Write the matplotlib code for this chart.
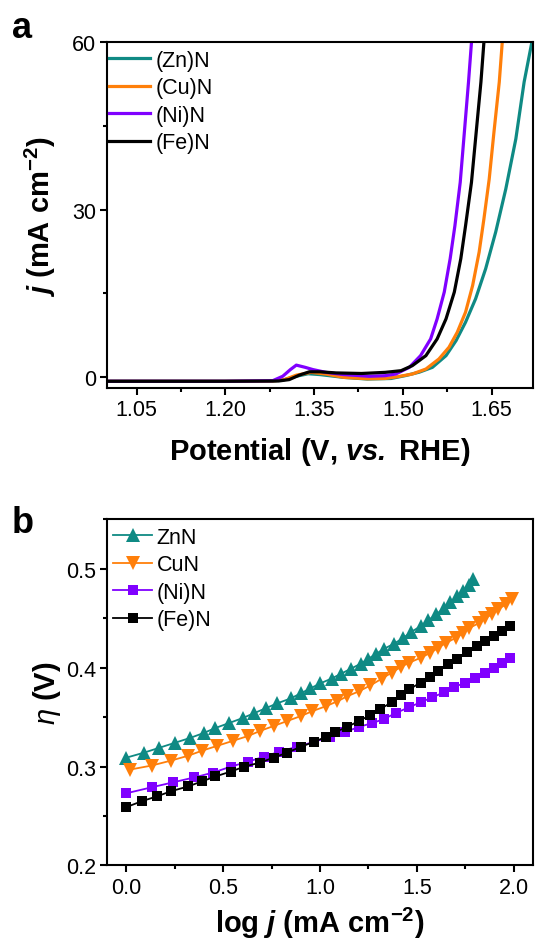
import matplotlib
matplotlib.use("Agg")
import matplotlib.pyplot as plt
from matplotlib.ticker import MultipleLocator, FixedLocator, FormatStrFormatter

plt.rcParams['font.family'] = ['Liberation Sans', 'DejaVu Sans']
plt.rcParams['mathtext.fontset'] = 'custom'
plt.rcParams['mathtext.rm'] = 'Liberation Sans'
plt.rcParams['mathtext.it'] = 'Liberation Sans:italic'
plt.rcParams['mathtext.bf'] = 'Liberation Sans:bold'
plt.rcParams['mathtext.bfit'] = 'Liberation Sans:italic:bold'

# ------------------------
# Panel a: polarization curves (V vs RHE, mA cm-2)
# ------------------------
zn_v = [1.00, 1.20, 1.28, 1.30, 1.32, 1.34, 1.36, 1.40, 1.44, 1.48, 1.505, 1.528,
        1.550, 1.573, 1.590, 1.606, 1.623, 1.640, 1.657, 1.674, 1.691, 1.705, 1.718]
zn_j = [-0.8, -0.8, -0.75, -0.5, 0.1, 0.55, 0.4, -0.1, -0.4, -0.3, 0.23, 0.84,
        1.7, 3.8, 6.5, 9.8, 14.0, 19.4, 26.0, 33.7, 42.7, 52.9, 60]

cu_v = [1.00, 1.20, 1.28, 1.30, 1.32, 1.345, 1.37, 1.40, 1.44, 1.47, 1.49, 1.516,
        1.539, 1.561, 1.578, 1.592, 1.606, 1.618, 1.629, 1.637, 1.646, 1.654, 1.663, 1.668]
cu_j = [-0.8, -0.8, -0.75, -0.5, 0.3, 0.8, 0.5, -0.1, -0.35, -0.3, 0.0, 0.5,
        1.4, 3.2, 5.3, 8.0, 11.6, 16.4, 22.4, 28.3, 35.5, 43.9, 52.9, 60]

ni_v = [1.00, 1.20, 1.28, 1.297, 1.31, 1.32, 1.335, 1.348, 1.37, 1.40, 1.443, 1.47,
        1.488, 1.511, 1.530, 1.547, 1.558, 1.570, 1.580, 1.588, 1.597, 1.604, 1.611, 1.616]
ni_j = [-0.8, -0.8, -0.7, 0.1, 1.3, 2.1, 1.7, 1.3, 0.8, 0.4, 0.1, 0.2,
        0.5, 1.7, 3.8, 6.8, 10.4, 15.2, 21.2, 27.1, 34.9, 43.9, 52.9, 60]

fe_v = [1.00, 1.20, 1.29, 1.308, 1.325, 1.342, 1.36, 1.387, 1.43, 1.47, 1.497, 1.516,
        1.539, 1.558, 1.573, 1.587, 1.598, 1.606, 1.616, 1.624, 1.632, 1.637]
fe_j = [-0.8, -0.8, -0.75, -0.5, 0.3, 0.9, 0.9, 0.7, 0.6, 0.8, 1.1, 2.0,
        3.8, 6.8, 10.4, 15.2, 21.2, 27.1, 34.9, 43.9, 52.9, 60]

# ------------------------
# Panel b: Tafel plots (log j, overpotential in V)
# ------------------------
zn_logj = [0.00, 0.09, 0.17, 0.25, 0.33, 0.40, 0.46, 0.53, 0.60, 0.66, 0.72, 0.78,
           0.85, 0.90, 0.95, 1.00, 1.06, 1.11, 1.16, 1.21, 1.25, 1.29, 1.33, 1.38,
           1.43, 1.47, 1.52, 1.56, 1.60, 1.64, 1.67, 1.71, 1.74, 1.77, 1.79]
zn_eta = [0.309, 0.314, 0.319, 0.324, 0.329, 0.334, 0.339, 0.344, 0.349, 0.354, 0.359, 0.364,
          0.369, 0.374, 0.379, 0.384, 0.389, 0.394, 0.399, 0.404, 0.409, 0.414, 0.419, 0.424,
          0.430, 0.436, 0.442, 0.448, 0.454, 0.460, 0.466, 0.472, 0.478, 0.484, 0.490]

cu_logj = [0.02, 0.13, 0.23, 0.32, 0.39, 0.47, 0.55, 0.63, 0.69, 0.76, 0.83, 0.90,
           0.96, 1.03, 1.09, 1.14, 1.20, 1.26, 1.32, 1.37, 1.42, 1.46, 1.52, 1.57,
           1.61, 1.65, 1.70, 1.74, 1.77, 1.82, 1.85, 1.89, 1.92, 1.96, 1.99]
cu_eta = [0.297, 0.301, 0.306, 0.311, 0.316, 0.321, 0.326, 0.331, 0.336, 0.341, 0.346, 0.351,
          0.356, 0.361, 0.366, 0.371, 0.376, 0.382, 0.389, 0.395, 0.401, 0.405, 0.410, 0.415,
          0.420, 0.425, 0.430, 0.435, 0.440, 0.445, 0.450, 0.454, 0.459, 0.464, 0.469]

ni_logj = [0.00, 0.13, 0.24, 0.35, 0.45, 0.54, 0.63, 0.71, 0.79, 0.88, 0.97, 1.05,
           1.13, 1.20, 1.27, 1.33, 1.39, 1.46, 1.52, 1.58, 1.64, 1.69, 1.75, 1.80,
           1.85, 1.90, 1.94, 1.98]
ni_eta = [0.273, 0.279, 0.284, 0.289, 0.294, 0.300, 0.305, 0.310, 0.315, 0.320, 0.325, 0.330,
          0.335, 0.340, 0.344, 0.348, 0.354, 0.360, 0.365, 0.370, 0.375, 0.380, 0.385, 0.390,
          0.395, 0.400, 0.405, 0.410]

fe_logj = [0.00, 0.08, 0.16, 0.23, 0.32, 0.39, 0.46, 0.54, 0.61, 0.69, 0.76, 0.83,
           0.90, 0.97, 1.03, 1.08, 1.14, 1.20, 1.26, 1.31, 1.37, 1.42, 1.46, 1.52,
           1.57, 1.61, 1.66, 1.71, 1.76, 1.81, 1.85, 1.90, 1.94, 1.98]
fe_eta = [0.259, 0.265, 0.270, 0.275, 0.280, 0.285, 0.290, 0.295, 0.300, 0.304, 0.309, 0.314,
          0.320, 0.325, 0.330, 0.335, 0.340, 0.346, 0.352, 0.358, 0.365, 0.372, 0.378, 0.385,
          0.391, 0.397, 0.404, 0.409, 0.416, 0.422, 0.427, 0.432, 0.437, 0.442]

teal = '#0F8A84'
orange = '#FF7F0A'
purple = '#8000FF'
black = '#000000'

TICK_FS = 15.5
LABEL_FS = 21


def style_axes(ax):
    for s in ax.spines.values():
        s.set_linewidth(1.5)
    ax.tick_params(which='major', direction='out', length=5, width=1.5,
                   labelsize=TICK_FS, pad=3)
    ax.tick_params(which='minor', direction='out', length=3, width=1.5)


fig = plt.figure(figsize=(5.36, 9.45), dpi=100)

# ---- panel a ----
ax1 = fig.add_axes([0.1996, 0.5884, 0.7948, 0.3656])
ax1.plot(zn_v, zn_j, color=teal, lw=2.3, label='(Zn)N')
ax1.plot(cu_v, cu_j, color=orange, lw=2.3, label='(Cu)N')
ax1.plot(ni_v, ni_j, color=purple, lw=2.3, label='(Ni)N')
ax1.plot(fe_v, fe_j, color=black, lw=2.3, label='(Fe)N')
ax1.set_xlim(1.0, 1.72)
ax1.set_ylim(-2, 60)
ax1.xaxis.set_major_locator(FixedLocator([1.05, 1.20, 1.35, 1.50, 1.65]))
ax1.xaxis.set_major_formatter(FormatStrFormatter('%.2f'))
ax1.xaxis.set_minor_locator(FixedLocator([1.125, 1.275, 1.425, 1.575]))
ax1.yaxis.set_major_locator(FixedLocator([0, 30, 60]))
ax1.yaxis.set_minor_locator(FixedLocator([15, 45]))
style_axes(ax1)
ax1.set_xlabel(r'Potential (V, $\mathbfit{vs.}$ RHE)', fontsize=LABEL_FS,
               fontweight='bold', labelpad=11)
ax1.set_ylabel(r'$\mathbfit{j}$ (mA cm$^{\mathbf{-2}}$)', fontsize=LABEL_FS,
               fontweight='bold', labelpad=10)
ax1.legend(loc='upper left', bbox_to_anchor=(0.0, 0.985), frameon=False,
           fontsize=TICK_FS, handlelength=1.9, handletextpad=0.25,
           labelspacing=0.3, borderaxespad=0.0, borderpad=0.1)

# ---- panel b ----
ax2 = fig.add_axes([0.1996, 0.0831, 0.7948, 0.3663])
ms = 9.5
ax2.plot(zn_logj, zn_eta, color=teal, lw=1.3, marker='^', ms=ms, mew=0, label='ZnN')
ax2.plot(cu_logj, cu_eta, color=orange, lw=1.3, marker='v', ms=ms, mew=0, label='CuN')
ax2.plot(ni_logj, ni_eta, color=purple, lw=1.3, marker='s', ms=7.5, mew=0, label='(Ni)N')
ax2.plot(fe_logj, fe_eta, color=black, lw=1.3, marker='s', ms=7.5, mew=0, label='(Fe)N')
ax2.set_xlim(-0.1, 2.1)
ax2.set_ylim(0.2, 0.55)
ax2.xaxis.set_major_locator(FixedLocator([0.0, 0.5, 1.0, 1.5, 2.0]))
ax2.xaxis.set_major_formatter(FormatStrFormatter('%.1f'))
ax2.xaxis.set_minor_locator(MultipleLocator(0.25))
ax2.yaxis.set_major_locator(FixedLocator([0.2, 0.3, 0.4, 0.5]))
ax2.yaxis.set_major_formatter(FormatStrFormatter('%.1f'))
ax2.yaxis.set_minor_locator(MultipleLocator(0.05))
style_axes(ax2)
ax2.set_xlabel(r'log $\mathbfit{j}$ (mA cm$^{\mathbf{-2}}$)', fontsize=LABEL_FS,
               fontweight='bold', labelpad=5)
ax2.set_ylabel(r'$\mathit{\eta}$ (V)', fontsize=LABEL_FS, fontweight='bold', labelpad=2)
ax2.legend(loc='upper left', bbox_to_anchor=(0.01, 0.985), frameon=False,
           fontsize=TICK_FS, handlelength=1.8, handletextpad=0.2,
           labelspacing=0.3, borderaxespad=0.0, borderpad=0.1)

fig.text(0.022, 0.960, 'a', fontsize=26, fontweight='bold', va='baseline')
fig.text(0.022, 0.436, 'b', fontsize=26, fontweight='bold', va='baseline')

fig.savefig('out.png', dpi=100)
